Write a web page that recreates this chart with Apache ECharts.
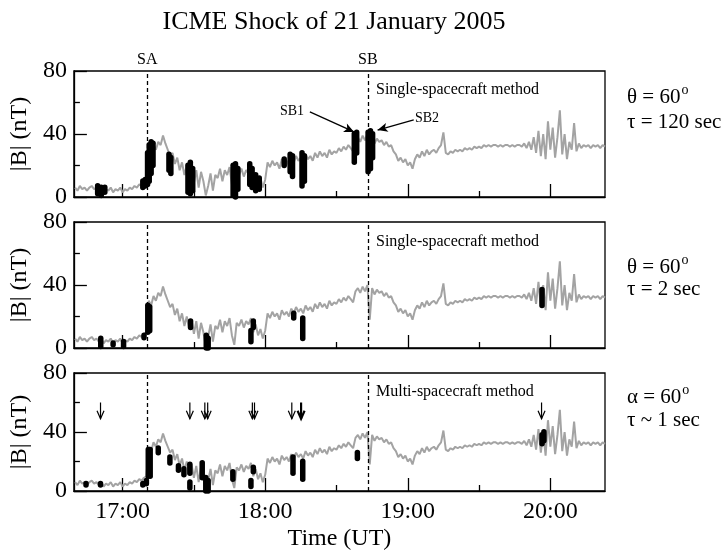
<!DOCTYPE html>
<html>
<head>
<meta charset="utf-8">
<script src="https://cdn.jsdelivr.net/npm/echarts@6/dist/echarts.min.js"></script>
<style>
  html, body { margin: 0; background: #fff; }
  #chart { width: 725px; height: 552px; }
</style>
</head>
<body>
<div id="chart"></div>
<script>
// time axis: minutes after 16:00 UT
var traceStart = 40; // first sample, one sample per minute
var traceB = [
  6, 4, 7, 5, 6, 4, 6, 7, 5, 6,
  4, 6, 3, 5, 4, 6, 3, 5, 4, 6,
  3, 5, 4, 6, 5, 7, 6, 8, 7, 9,
  10, 30, 27, 33, 30, 35, 33, 39, 34, 30,
  26, 28, 21, 25, 17, 22, 14, 20, 12, 18,
  9, 17, 6, 16, 10, 1, 7, 15, 4, 14,
  12, 18, 10, 17, 14, 19, 8, 2, 16, 14,
  18, 13, 17, 15, 19, 10, 15, 8, 12, 6,
  11, 22, 19, 23, 20, 22, 18, 24, 21, 23,
  20, 25, 22, 26, 23, 25, 22, 27, 24, 26,
  23, 28, 25, 29, 26, 28, 25, 30, 27, 29,
  28, 31, 29, 32, 30, 33, 31, 29, 36, 38,
  35, 39, 36, 40, 18, 38, 34, 37, 35, 36,
  33, 35, 32, 33, 29, 27, 23, 25, 22, 24,
  20, 22, 18, 24, 27, 25, 29, 26, 30, 27,
  29, 30, 28, 31, 33, 41, 28, 27, 29, 28,
  30, 29, 30, 29, 31, 30, 31, 30, 32, 31,
  32, 31, 33, 32, 33, 32, 33, 33, 32, 33,
  32, 33, 33, 32, 33, 32, 33, 33, 32, 34,
  31, 35, 30, 38, 28, 42, 26, 40, 24, 48,
  30, 44, 25, 38, 55, 27, 40, 24, 35, 30,
  47, 29, 34, 31, 33, 32, 33, 31, 33, 32,
  33, 31, 33, 32
];

// black events: [minute, low |B|, high |B|]
var blobsSingle120 = [
  [49.5, 2, 7], [51, 1, 6], [52.5, 3, 6],
  [68.5, 6, 10], [69.5, 7, 11], [70.5, 8, 28], [71.2, 10, 33], [72, 15, 35], [72.8, 20, 34],
  [79.5, 17, 27], [80.3, 15, 25],
  [87.5, 3, 20], [88.5, 2, 22], [89.5, 4, 18],
  [106.5, 1, 20], [107.5, 0, 21], [108.5, 5, 18],
  [113.5, 8, 21], [114.5, 6, 18], [116, 4, 14], [117.5, 5, 12],
  [128, 20, 24], [130.5, 16, 27], [131.5, 13, 26],
  [135.5, 7, 28], [136.5, 10, 26],
  [157.5, 22, 40], [158.5, 28, 41],
  [163.3, 16, 41], [164.3, 18, 42], [165.2, 25, 40]
];
var blobsSingle2 = [
  [50.8, 1, 6], [56, 2, 3], [60.4, 1, 4], [69, 6.5, 8],
  [70.6, 10, 27], [71.4, 11, 26],
  [88.6, 13, 17], [95.2, 0, 8], [96, 0, 6],
  [114, 4, 11], [115, 13, 17],
  [132, 19, 22], [135.8, 6, 19],
  [236.5, 27, 37]
];
var blobsMulti = [
  [44.6, 4, 5], [50.7, 4, 5], [68.5, 4, 5], [70, 5, 7],
  [70.8, 10, 28], [71.6, 10, 28],
  [75, 26, 29], [79.9, 19, 23], [83.5, 14, 17], [85.8, 11, 15],
  [88.3, 12, 18], [88.3, 2, 6], [93.5, 9, 19], [95, 0, 9], [96, 0, 7],
  [106.4, 8, 13], [114, 3, 7], [115, 13, 16],
  [131.7, 12, 23], [135.8, 8, 20],
  [158.8, 22, 26],
  [236.5, 32, 38], [237.3, 34, 40]
];

// arrows in the multi-spacecraft panel: [minute, top, bottom, bold]
var eventArrows = [
  [50.7, 60, 49, 0], [88.3, 60, 49, 0], [94.6, 60, 49, 0], [95.8, 60, 49, 0],
  [114.6, 60, 49, 0], [115.5, 60, 49, 0], [131.2, 60, 49, 0], [135.1, 60, 49, 1],
  [236.3, 60, 49, 0]
];

var shockSA = 70.4;  // 17:10
var shockSB = 163.2; // 18:43
var hourTicks = [60, 120, 180, 240];
var halfHourTicks = [90, 150, 210];

var panelTexts = [
  { method: 'Single-spacecraft method', angle: 'θ = 60', tau: 'τ = 120 sec' },
  { method: 'Single-spacecraft method', angle: 'θ = 60', tau: 'τ = 2 sec' },
  { method: 'Multi-spacecraft method', angle: 'α = 60', tau: 'τ ~ 1 sec' }
];

var SERIF = '"Liberation Serif", "DejaVu Serif", serif';
var gridTops = [71, 222, 373];
var gridH = 126;

var traceData = traceB.map(function (v, i) { return [traceStart + i, v]; });

var measureCtx = document.createElement('canvas').getContext('2d');
function textWidth(str, font) {
  measureCtx.font = font;
  return measureCtx.measureText(str).width;
}

function fmtTime(v) {
  var h = 16 + Math.floor(v / 60);
  return h + ':00';
}

function renderBlob(params, api) {
  var a = api.coord([api.value(0), api.value(1)]);
  var b = api.coord([api.value(0), api.value(2)]);
  return {
    type: 'line',
    shape: { x1: a[0], y1: a[1], x2: b[0], y2: b[1] - 0.2 },
    style: { stroke: '#000', lineWidth: 5.5, lineCap: 'round' }
  };
}

function renderArrow(params, api) {
  var top = api.coord([api.value(0), api.value(1)]);
  var bot = api.coord([api.value(0), api.value(2)]);
  var w = api.value(3) ? 2.2 : 1.2;
  return {
    type: 'group',
    children: [
      { type: 'line', shape: { x1: top[0], y1: top[1], x2: bot[0], y2: bot[1] },
        style: { stroke: '#000', lineWidth: w } },
      { type: 'polyline', shape: { points: [[bot[0] - 3.5, bot[1] - 8], [bot[0], bot[1]], [bot[0] + 3.5, bot[1] - 8]] },
        style: { stroke: '#000', lineWidth: w, fill: null } }
    ]
  };
}

var grids = [], xAxes = [], yAxes = [], series = [], graphics = [];
var blobSets = [blobsSingle120, blobsSingle2, blobsMulti];
var sideFont = '21px ' + SERIF;

for (var i = 0; i < 3; i++) {
  var last = i === 2;
  grids.push({
    left: 69, width: 536, top: gridTops[i], height: gridH,
    show: true, borderColor: '#000', borderWidth: 1.3
  });
  xAxes.push({
    gridIndex: i, type: 'value', min: 39.5, max: 263, position: 'bottom',
    axisLine: { show: true, lineStyle: { color: '#000', width: 1.3 } },
    axisTick: { show: true, inside: true, length: 13, customValues: hourTicks, lineStyle: { color: '#000', width: 1.3 } },
    axisLabel: {
      show: last, customValues: hourTicks, formatter: fmtTime,
      color: '#000', fontSize: 24, fontFamily: SERIF, margin: 9
    },
    splitLine: { show: false },
    name: last ? 'Time (UT)' : '', nameLocation: 'middle', nameGap: 36,
    nameTextStyle: { color: '#000', fontSize: 24, fontFamily: SERIF }
  });
  xAxes.push({
    gridIndex: i, type: 'value', min: 39.5, max: 263, position: 'bottom',
    axisLine: { show: false },
    axisTick: { show: true, inside: true, length: 6, customValues: halfHourTicks, lineStyle: { color: '#000', width: 1.3 } },
    axisLabel: { show: false },
    splitLine: { show: false }
  });
  yAxes.push({
    gridIndex: i, type: 'value', min: 0, max: 80, interval: 40,
    axisLine: { show: true, lineStyle: { color: '#000', width: 1.3 } },
    axisTick: { show: true, inside: true, length: 13, lineStyle: { color: '#000', width: 1.3 } },
    minorTick: { show: true, splitNumber: 2, length: 6, lineStyle: { color: '#000', width: 1.3 } },
    axisLabel: { color: '#000', fontSize: 24, fontFamily: SERIF, margin: 7 },
    splitLine: { show: false },
    name: '|B| (nT)', nameLocation: 'middle', nameGap: 26, nameRotate: 90,
    nameTextStyle: { color: '#000', fontSize: 24, fontFamily: SERIF }
  });

  series.push({
    type: 'line', xAxisIndex: i * 2, yAxisIndex: i,
    data: traceData, showSymbol: false, silent: true,
    lineStyle: { color: '#a3a3a3', width: 2 },
    markLine: {
      silent: true, symbol: ['none', 'none'],
      lineStyle: { color: '#000', type: [4, 3], width: 1.3 },
      label: {
        show: i === 0, position: 'end', distance: 3, formatter: '{b}',
        color: '#000', fontSize: 16, fontFamily: SERIF
      },
      data: [{ name: 'SA', xAxis: shockSA }, { name: 'SB', xAxis: shockSB }]
    }
  });
  series.push({
    type: 'custom', xAxisIndex: i * 2, yAxisIndex: i,
    renderItem: renderBlob, data: blobSets[i], silent: true, z: 5
  });

  graphics.push({
    type: 'text', left: 376, top: [82, 234, 384][i],
    style: { text: panelTexts[i].method, fill: '#000', font: '16px ' + SERIF }
  });
  var angleTop = [87, 257, 387][i];
  graphics.push({
    type: 'text', left: 627, top: angleTop,
    style: { text: panelTexts[i].angle, fill: '#000', font: sideFont }
  });
  graphics.push({
    type: 'text', left: 627 + textWidth(panelTexts[i].angle, sideFont) + 1, top: angleTop - 4,
    style: { text: 'o', fill: '#000', font: '14px ' + SERIF }
  });
  graphics.push({
    type: 'text', left: 627, top: [112, 279, 410][i],
    style: { text: panelTexts[i].tau, fill: '#000', font: sideFont }
  });
}

series.push({
  type: 'custom', xAxisIndex: 4, yAxisIndex: 2,
  renderItem: renderArrow, data: eventArrows, silent: true, z: 6
});

// SB1 / SB2 pointers in the top panel
series.push({
  type: 'line', xAxisIndex: 0, yAxisIndex: 0, data: [],
  markLine: {
    silent: true, symbol: ['none', 'arrow'], symbolSize: [7, 10],
    lineStyle: { color: '#000', type: 'solid', width: 1.3 },
    label: { show: false },
    data: [
      [{ coord: [138.8, 54] }, { coord: [157.4, 41.3] }],
      [{ coord: [182.5, 48.9] }, { coord: [167.3, 42.5] }]
    ]
  }
});

graphics.push({
  type: 'text', right: 725 - 304, top: 104,
  style: { text: 'SB1', fill: '#000', font: '14px ' + SERIF }
});
graphics.push({
  type: 'text', left: 415, top: 111,
  style: { text: 'SB2', fill: '#000', font: '14px ' + SERIF }
});
var titleText = 'ICME Shock of 21 January 2005';
var titleFont = '26px ' + SERIF;
graphics.push({
  type: 'text', left: 334 - textWidth(titleText, titleFont) / 2, top: 9,
  style: { text: titleText, fill: '#000', font: titleFont }
});

var chart = echarts.init(document.getElementById('chart'));
chart.setOption({
  animation: false,
  backgroundColor: '#fff',
  grid: grids,
  xAxis: xAxes,
  yAxis: yAxes,
  series: series,
  graphic: graphics
});
window.addEventListener('resize', function () { chart.resize(); });
</script>
</body>
</html>
